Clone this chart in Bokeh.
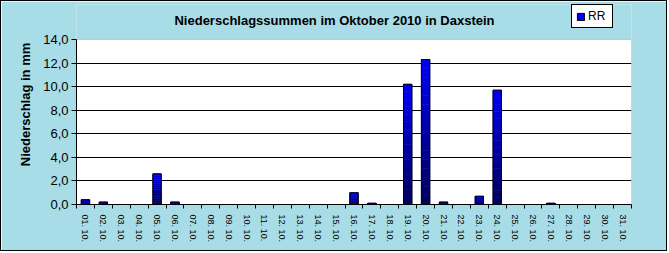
from bokeh.plotting import figure
from bokeh.models import FixedTicker, Range1d, Label, Legend, LegendItem, BoxAnnotation
from bokeh.embed import file_html
from bokeh.resources import INLINE

# ---- data ----
day_labels = ["01. 10.", "02. 10.", "03. 10.", "04. 10.", "05. 10.", "06. 10.", "07. 10.", "08. 10.",
              "09. 10.", "10. 10.", "11. 10.", "12. 10.", "13. 10.", "14. 10.", "15. 10.", "16. 10.",
              "17. 10.", "18. 10.", "19. 10.", "20. 10.", "21. 10.", "22. 10.", "23. 10.", "24. 10.",
              "25. 10.", "26. 10.", "27. 10.", "28. 10.", "29. 10.", "30. 10.", "31. 10."]
rr_values = [0.4, 0.2, 0.0, 0.0, 2.6, 0.2, 0.0, 0.0, 0.0, 0.0, 0.0, 0.0, 0.0, 0.0, 0.0, 1.0,
             0.1, 0.0, 10.2, 12.3, 0.2, 0.0, 0.7, 9.7, 0.0, 0.0, 0.1, 0.0, 0.0, 0.0, 0.0]
y_ticks = [0, 2, 4, 6, 8, 10, 12, 14]
y_tick_labels = ["0,0", "2,0", "4,0", "6,0", "8,0", "10,0", "12,0", "14,0"]
title_text = "Niederschlagssummen im Oktober 2010 in Daxstein"
y_axis_title = "Niederschlag in mm"
series_name = "RR"

FONT = "Liberation Sans"
n = len(rr_values)
xs = list(range(1, n + 1))
y_max = y_ticks[-1]

# plot area: 165 px tall for the value range; frame extends above it to hold title + legend
area_px = 165.0
frame_px = 200.0
y_top = y_max * frame_px / area_px

p = figure(width=667, height=251, output_backend="svg", toolbar_location=None,
           x_range=Range1d(0.5, n + 0.5), y_range=Range1d(0, y_top),
           min_border_left=75, min_border_right=37, min_border_top=3, min_border_bottom=48,
           title=None, styles={"border": "1px solid black"})
p.background_fill_color = "#A8DCE7"
p.border_fill_color = "#A8DCE7"
p.outline_line_color = None

# white plot area with grey outline
area = BoxAnnotation(left=0.5, right=n + 0.5, bottom=0, top=y_max, fill_color="white",
                     fill_alpha=1, line_color="#808080", line_width=1, level="image")
p.add_layout(area)

# gradient bars: slices from dark bottom to bright top
N = 16
bw = 0.47
c0 = (0x00, 0x00, 0x58)
c1 = (0x00, 0x00, 0xF4)
for k in range(N):
    t = (k + 0.5) / N
    col = "#%02x%02x%02x" % tuple(int(round(a + (b - a) * t)) for a, b in zip(c0, c1))
    bottoms = [v * k / N for v in rr_values]
    tops = [v * (k + 1) / N for v in rr_values]
    p.vbar(x=xs, bottom=bottoms, top=tops, width=bw, fill_color=col, line_color=col, line_width=0.6)
p.vbar(x=xs, bottom=0, top=rr_values, width=bw, fill_color=None, line_color="black", line_width=1)

# legend (renderer of zero height, carrying the series colour for the legend swatch)
leg_r = p.vbar(x=xs[:1], bottom=[0], top=[0], width=bw, fill_color="#0000FF", line_color="black",
               line_width=1)
legend = Legend(items=[LegendItem(label=series_name, renderers=[leg_r])], location=(495, 176),
                glyph_width=9, glyph_height=9, label_standoff=3, padding=4, spacing=0, margin=0,
                label_text_font=FONT, label_text_font_size="12px", label_height=11,
                label_text_color="black",
                border_line_color="black", border_line_width=1, border_line_alpha=1,
                background_fill_color="white", background_fill_alpha=1)
p.add_layout(legend, "center")

# axes
p.yaxis.bounds = (0, y_max)
p.yaxis.ticker = FixedTicker(ticks=y_ticks)
p.yaxis.major_label_overrides = {t: l for t, l in zip(y_ticks, y_tick_labels)}
p.yaxis.major_tick_out = 5
p.yaxis.major_tick_in = 0
p.yaxis.minor_tick_out = 0
p.yaxis.minor_tick_in = 0
p.yaxis.major_label_standoff = 3
p.yaxis.major_label_text_font = FONT
p.yaxis.major_label_text_font_size = "13px"
p.yaxis.major_label_text_color = "black"
p.yaxis.axis_line_color = "black"
p.yaxis.major_tick_line_color = "black"
p.yaxis.axis_label = y_axis_title
p.yaxis.axis_label_text_font = FONT
p.yaxis.axis_label_text_font_size = "13px"
p.yaxis.axis_label_text_font_style = "bold"
p.yaxis.axis_label_text_color = "black"
p.yaxis.axis_label_standoff = 7

boundaries = [i + 0.5 for i in range(0, n + 1)]
p.xaxis.ticker = FixedTicker(ticks=xs, minor_ticks=boundaries)
p.xaxis.major_label_overrides = {x: l for x, l in zip(xs, day_labels)}
p.xaxis.major_label_orientation = "vertical"
p.xaxis.major_tick_out = 0
p.xaxis.major_tick_in = 0
p.xaxis.minor_tick_out = 4
p.xaxis.minor_tick_in = 0
p.xaxis.minor_tick_line_color = "black"
p.xaxis.major_label_standoff = 6
p.xaxis.major_label_text_font = FONT
p.xaxis.major_label_text_font_size = "9px"
p.xaxis.major_label_text_color = "black"
p.xaxis.axis_line_color = "black"

p.xgrid.visible = False
p.ygrid.ticker = FixedTicker(ticks=y_ticks[1:-1])
p.ygrid.grid_line_color = "black"
p.ygrid.grid_line_width = 1

# title
p.add_layout(Label(x=258, y=184, x_units="screen", y_units="screen", text=title_text,
                   text_align="center", text_baseline="middle", text_font=FONT,
                   text_font_size="13px", text_font_style="bold", text_color="black"))

open("out.html", "w").write(file_html(p, INLINE))
